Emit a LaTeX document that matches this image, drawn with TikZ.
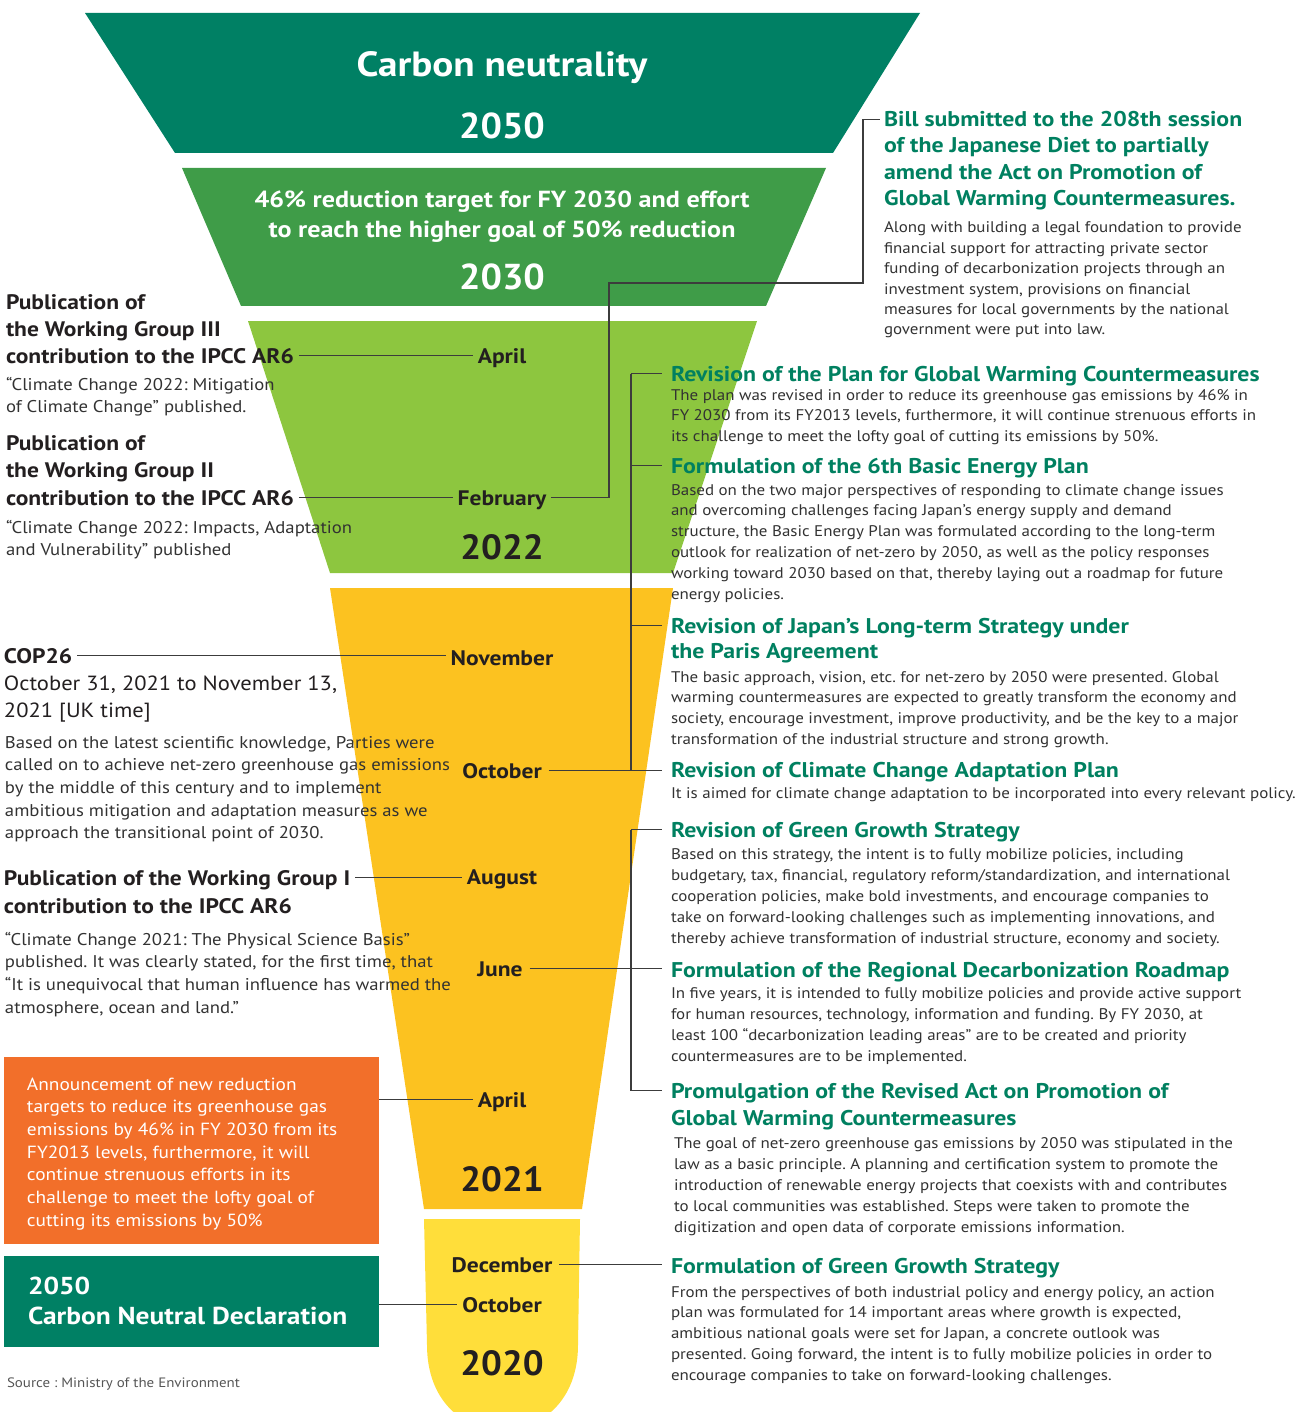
\documentclass[tikz,border=0pt]{standalone}
\usepackage{fontspec}
\setmainfont{PT Sans}[FakeStretch=1.10, BoldFeatures={FakeStretch=1.12}]
\newfontfamily\yearfont{PT Sans}[FakeStretch=1.05]
\usetikzlibrary{calc}
\frenchspacing

\definecolor{deepgreen}{RGB}{0,128,100}
\definecolor{midgreen}{RGB}{63,156,72}
\definecolor{limegreen}{RGB}{141,198,63}
\definecolor{amber}{RGB}{252,194,32}
\definecolor{lemon}{RGB}{255,222,58}
\definecolor{tangerine}{RGB}{242,111,42}
\definecolor{titlegreen}{RGB}{0,128,96}
\definecolor{ink}{RGB}{35,31,32}
\definecolor{bodygray}{RGB}{50,50,50}
\definecolor{rulegray}{RGB}{60,60,60}
\definecolor{sourcegray}{RGB}{85,85,85}

\newcommand{\lstack}[1]{\begin{tabular}[t]{@{}l@{}}#1\end{tabular}}
\newcommand{\cstack}[1]{\begin{tabular}[t]{@{}c@{}}#1\end{tabular}}

\tikzset{
  every node/.style={inner sep=0pt, outer sep=0pt},
  bandhead/.style={text=white, font=\fontsize{35}{40}\selectfont\bfseries, anchor=base},
  bandsub/.style={text=white, font=\fontsize{23.3}{30}\selectfont\bfseries, anchor=base},
  bandyear/.style={text=white, font=\fontsize{36}{40}\selectfont\yearfont\bfseries, anchor=base},
  yearlabel/.style={text=ink, font=\fontsize{35}{40}\selectfont\yearfont\bfseries, anchor=base},
  month/.style={text=ink, font=\fontsize{21}{24}\selectfont\bfseries, anchor=base, text height=15pt, text depth=0pt},
  lhead/.style={text=ink, font=\fontsize{21}{27}\selectfont\bfseries, anchor=base west, text height=15pt, text depth=0pt},
  ldate/.style={text=ink, font=\fontsize{20.5}{27}\selectfont, anchor=base west},
  lbody/.style={text=bodygray, font=\fontsize{17}{22.7}\selectfont, anchor=base west},
  boxtext/.style={text=white, font=\fontsize{17.6}{22.7}\selectfont, anchor=base west},
  boxhead/.style={text=white, font=\fontsize{24.5}{32}\selectfont\bfseries, anchor=base west},
  rhead/.style={text=titlegreen, font=\fontsize{21.3}{26.5}\selectfont\bfseries, anchor=base west, text height=15pt, text depth=0pt},
  rbody/.style={text=bodygray, font=\fontsize{15.4}{20.8}\selectfont, anchor=base west},
  conn/.style={draw=rulegray, line width=1.1pt},
}

\begin{document}
\begin{tikzpicture}[x=1pt, y=-1pt]
\useasboundingbox (0,0) rectangle (1312,1412);

% ---- funnel bands ----
\fill[deepgreen] (85,13) -- (920,13) -- (833,153) -- (175,153) -- cycle;
\fill[midgreen] (182,168) -- (826,168) -- (766,306) -- (241,306) -- cycle;
\fill[limegreen] (248,321) -- (757,321) -- (673,573) -- (330,573) -- cycle;
\fill[amber] (330,588) -- (673,588) -- (582,1209) -- (424,1209) -- cycle;
\begin{scope}
  \clip (0,0) rectangle (1312,1412);
  \fill[lemon] (424,1219) -- (580,1219) -- (578,1345)
    .. controls (578,1400) and (542,1430) .. (502,1430)
    .. controls (462,1430) and (427,1400) .. (427,1345) -- cycle;
\end{scope}

% ---- side boxes ----
\node[fill=tangerine, minimum width=375pt, minimum height=187pt, anchor=north west] (orangebox) at (4,1057) {};
\node[fill=deepgreen, minimum width=375pt, minimum height=91pt, anchor=north west] (greenbox) at (4,1256) {};

% ---- texts inside the funnel ----
\node[bandhead] (cn) at (502,77) {Carbon neutrality};
\node[bandyear] (y2050) at (502,139) {2050};
\node[bandsub] (target) at (502,208) {\cstack{46\% reduction target for FY 2030 and effort\\to reach the higher goal of 50\% reduction}};
\node[bandyear] (y2030) at (502,290) {2030};

\node[month] (apr22) at (502,363) {April};
\node[month] (feb22) at (502,505) {February};
\node[yearlabel] (y2022) at (502,559) {2022};

\node[month] (nov21) at (502,665) {November};
\node[month] (oct21) at (502,778) {October};
\node[month] (aug21) at (502,884) {August};
\node[month] (jun21) at (500,976) {June};
\node[month] (apr21) at (502,1107) {April};
\node[yearlabel] (y2021) at (502,1191) {2021};

\node[month] (dec20) at (502,1272) {December};
\node[month] (oct20) at (502,1312) {October};
\node[yearlabel] (y2020) at (502,1375) {2020};

% ---- left column ----
\node[lhead] (wg3a) at (6,309) {\lstack{Publication of\\the Working Group III}};
\node[lhead] (wg3c) at (6,363) {contribution to the IPCC AR6};
\node[lbody] (wg3t) at (6,390) {\lstack{“Climate Change 2022: Mitigation\\of Climate Change” published.}};

\node[lhead] (wg2a) at (6,450) {\lstack{Publication of\\the Working Group II}};
\node[lhead] (wg2c) at (6,505) {contribution to the IPCC AR6};
\node[lbody] (wg2t) at (6,533) {\lstack{“Climate Change 2022: Impacts, Adaptation\\and Vulnerability” published}};

\node[lhead] (cop) at (4,663) {COP26};
\node[ldate] (copdate) at (4,690) {\lstack{October 31, 2021 to November 13,\\2021 [UK time]}};
\node[lbody] (copt) at (5,748) {\lstack{Based on the latest scientific knowledge, Parties were\\called on to achieve net-zero greenhouse gas emissions\\by the middle of this century and to implement\\ambitious mitigation and adaptation measures as we\\approach the transitional point of 2030.}};

\node[lhead] (wg1a) at (4,885) {Publication of the Working Group I};
\node[lhead] (wg1b) at (4,913) {contribution to the IPCC AR6};
\node[lbody] (wg1t) at (5,945) {\lstack{“Climate Change 2021: The Physical Science Basis”\\published. It was clearly stated, for the first time, that\\“It is unequivocal that human influence has warmed the\\atmosphere, ocean and land.”}};

\node[boxtext] (ordertext) at (27,1090) {\lstack{Announcement of new reduction\\targets to reduce its greenhouse gas\\emissions by 46\% in FY 2030 from its\\FY2013 levels, furthermore, it will\\continue strenuous efforts in its\\challenge to meet the lofty goal of\\cutting its emissions by 50\%}};

\node[boxhead] (decl) at (28,1294) {\lstack{2050\\[-1.7pt]Carbon Neutral Declaration}};

\node[text=sourcegray, font=\fontsize{13.6}{16}\selectfont, anchor=base west] (source) at (7,1387) {Source : Ministry of the Environment};

% ---- right column ----
\node[rhead] (bill) at (884,127) {Bill submitted to the 208th session};
\node[rhead] (billb) at (884,153) {\lstack{of the Japanese Diet to partially\\amend the Act on Promotion of\\Global Warming Countermeasures.}};
\node[rbody, font=\fontsize{15.4}{20.4}\selectfont] (billt) at (884,233) {\lstack{Along with building a legal foundation to provide\\financial support for attracting private sector\\funding of decarbonization projects through an\\investment system, provisions on financial\\measures for local governments by the national\\government were put into law.}};

\node[rhead] (rplan) at (671,381) {Revision of the Plan for Global Warming Countermeasures};
\node[rbody, font=\fontsize{15.4}{20.5}\selectfont] (rplant) at (671,400) {\lstack{The plan was revised in order to reduce its greenhouse gas emissions by 46\% in\\FY 2030 from its FY2013 levels, furthermore, it will continue strenuous efforts in\\its challenge to meet the lofty goal of cutting its emissions by 50\%.}};

\node[rhead] (bep) at (671,473) {Formulation of the 6th Basic Energy Plan};
\node[rbody] (bept) at (671,495) {\lstack{Based on the two major perspectives of responding to climate change issues\\and overcoming challenges facing Japan’s energy supply and demand\\structure, the Basic Energy Plan was formulated according to the long-term\\outlook for realization of net-zero by 2050, as well as the policy responses\\working toward 2030 based on that, thereby laying out a roadmap for future\\energy policies.}};

\node[rhead] (lts) at (671,633) {Revision of Japan’s Long-term Strategy under};
\node[rhead] (ltsb) at (671,658) {the Paris Agreement};
\node[rbody] (ltst) at (671,682) {\lstack{The basic approach, vision, etc. for net-zero by 2050 were presented. Global\\warming countermeasures are expected to greatly transform the economy and\\society, encourage investment, improve productivity, and be the key to a major\\transformation of the industrial structure and strong growth.}};

\node[rhead] (adapt) at (671,777) {Revision of Climate Change Adaptation Plan};
\node[rbody] (adaptt) at (671,798) {It is aimed for climate change adaptation to be incorporated into every relevant policy.};

\node[rhead] (ggsrev) at (671,837) {Revision of Green Growth Strategy};
\node[rbody, font=\fontsize{15.4}{21}\selectfont] (ggsrevt) at (671,859) {\lstack{Based on this strategy, the intent is to fully mobilize policies, including\\budgetary, tax, financial, regulatory reform/standardization, and international\\cooperation policies, make bold investments, and encourage companies to\\take on forward-looking challenges such as implementing innovations, and\\thereby achieve transformation of industrial structure, economy and society.}};

\node[rhead] (regional) at (671,977) {Formulation of the Regional Decarbonization Roadmap};
\node[rbody, font=\fontsize{15.4}{21}\selectfont] (regionalt) at (671,998) {\lstack{In five years, it is intended to fully mobilize policies and provide active support\\for human resources, technology, information and funding. By FY 2030, at\\least 100 “decarbonization leading areas” are to be created and priority\\countermeasures are to be implemented.}};

\node[rhead] (promul) at (671,1098) {Promulgation of the Revised Act on Promotion of};
\node[rhead] (promulb) at (671,1125) {Global Warming Countermeasures};
\node[rbody, font=\fontsize{15.4}{21}\selectfont] (promult) at (674,1148) {\lstack{The goal of net-zero greenhouse gas emissions by 2050 was stipulated in the\\law as a basic principle. A planning and certification system to promote the\\introduction of renewable energy projects that coexists with and contributes\\to local communities was established. Steps were taken to promote the\\digitization and open data of corporate emissions information.}};

\node[rhead] (ggsform) at (671,1273) {Formulation of Green Growth Strategy};
\node[rbody] (ggsformt) at (671,1297) {\lstack{From the perspectives of both industrial policy and energy policy, an action\\plan was formulated for 14 important areas where growth is expected,\\ambitious national goals were set for Japan, a concrete outlook was\\presented. Going forward, the intent is to fully mobilize policies in order to\\encourage companies to take on forward-looking challenges.}};

% ---- connectors ----
\coordinate (spine) at (631,0);
\coordinate (billbendA) at (609,283);
\coordinate (billbendB) at (863,283);

% left column to months
\draw[conn, shorten <=5pt, shorten >=5pt] (wg3c.east) -- (wg3c.east -| apr22.west);
\draw[conn, shorten <=5pt, shorten >=5pt] (wg2c.east) -- (wg2c.east -| feb22.west);
\draw[conn, shorten <=5pt, shorten >=5pt] (cop.east) -- (cop.east -| nov21.west);
\draw[conn, shorten <=5pt, shorten >=5pt] (wg1a.east) -- (wg1a.east -| aug21.west);
\draw[conn, shorten >=5pt] (orangebox.east |- apr21.west) -- (apr21.west);
\draw[conn, shorten >=5pt] (greenbox.east |- oct20.west) -- (oct20.west);

% February to the bill
\draw[conn, shorten <=5pt, shorten >=4pt] (feb22.east) -| (billbendA) -- (billbendB) |- (bill.west);

% October 2021 bracket
\draw[conn] (rplan.west -| spine) -- (oct21.east -| spine);
\draw[conn, shorten >=9pt] (rplan.west -| spine) -- (rplan.west);
\draw[conn, shorten >=9pt] (bep.west -| spine) -- (bep.west);
\draw[conn, shorten >=9pt] (lts.west -| spine) -- (lts.west);
\draw[conn, shorten <=7pt, shorten >=9pt] (oct21.east) -- (oct21.east -| adapt.west);

% June 2021 bracket
\draw[conn] (ggsrev.west -| spine) -- (promul.west -| spine);
\draw[conn, shorten >=9pt] (ggsrev.west -| spine) -- (ggsrev.west);
\draw[conn, shorten >=9pt] (promul.west -| spine) -- (promul.west);
\draw[conn, shorten <=7pt, shorten >=9pt] (jun21.east) -- (jun21.east -| regional.west);

% December 2020
\draw[conn, shorten <=7pt, shorten >=9pt] (dec20.east) -- (dec20.east -| ggsform.west);

\end{tikzpicture}
\end{document}
